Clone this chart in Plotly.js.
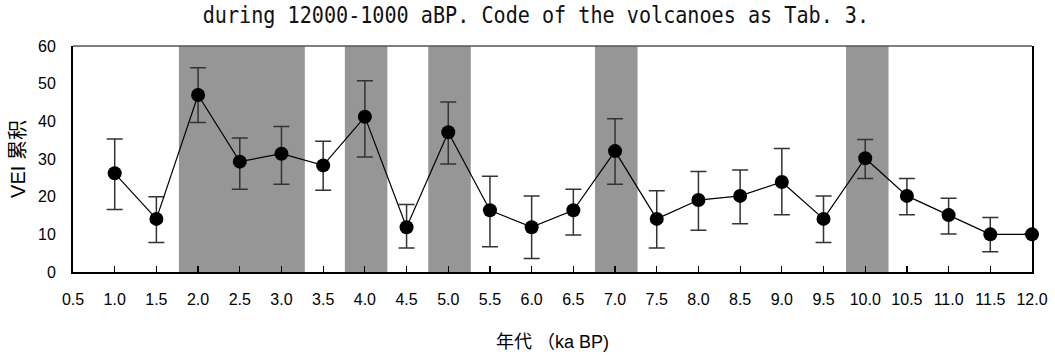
<!DOCTYPE html>
<html>
<head>
<meta charset="utf-8">
<script src="https://cdn.plot.ly/plotly-3.0.1.min.js"></script>
<style>html,body{margin:0;padding:0;background:#fff;}#chart{width:1055px;height:359px;}</style>
</head>
<body>
<div id="chart"></div>
<script>
// Age (ka BP)
const ages = [1.0, 1.5, 2.0, 2.5, 3.0, 3.5, 4.0, 4.5, 5.0, 5.5, 6.0, 6.5, 7.0, 7.5, 8.0, 8.5, 9.0, 9.5, 10.0, 10.5, 11.0, 11.5, 12.0];
// Cumulative VEI
const veiSum = [26.2, 14.1, 47.0, 29.3, 31.4, 28.3, 41.2, 11.9, 37.1, 16.4, 11.9, 16.4, 32.1, 14.1, 19.1, 20.2, 23.9, 14.1, 30.2, 20.2, 15.1, 10.0, 10.0];
// Error bar upper and lower ends
const veiUpper = [35.3, 20.0, 54.2, 35.6, 38.6, 34.7, 50.8, 17.9, 45.1, 25.4, 20.2, 22.0, 40.7, 21.6, 26.7, 27.1, 32.8, 20.2, 35.2, 24.8, 19.6, 14.5, 10.0];
const veiLower = [16.6, 7.8, 39.7, 22.0, 23.3, 21.7, 30.5, 6.4, 28.7, 6.7, 3.6, 9.8, 23.3, 6.4, 11.1, 12.8, 15.2, 7.8, 24.8, 15.2, 10.1, 5.4, 10.0];
// Shaded periods (ka BP)
const bandStart = [1.77, 3.76, 4.76, 6.76, 9.77];
const bandEnd   = [3.28, 4.27, 5.27, 7.27, 10.28];
// Tick labels
const xTickLabels = ['0.5','1.0','1.5','2.0','2.5','3.0','3.5','4.0','4.5','5.0','5.5','6.0','6.5','7.0','7.5','8.0','8.5','9.0','9.5','10.0','10.5','11.0','11.5','12.0'];
const yTickValues = [0, 10, 20, 30, 40, 50, 60];

const titleText = 'during 12000-1000 aBP. Code of the volcanoes as Tab. 3.';
const xTitleText = '年代 （ka BP)';
const yTitleText = 'VEI 累积';

const errPlus = veiUpper.map((u, i) => u - veiSum[i]);
const errMinus = veiLower.map((l, i) => veiSum[i] - l);

const FONT = 'Liberation Sans, Arial, Noto Sans CJK SC, sans-serif';

const shapes = bandStart.map((s, i) => ({
  type: 'rect', xref: 'x', yref: 'paper', x0: s, x1: bandEnd[i], y0: 0, y1: 1,
  fillcolor: '#969696', line: {width: 0}, layer: 'below'
}));
shapes.push({type: 'line', xref: 'paper', yref: 'paper', x0: 0, x1: 1, y0: 1, y1: 1,
  line: {color: '#555555', width: 1.5}, layer: 'above'});

const trace = {
  x: ages, y: veiSum, type: 'scatter', mode: 'lines+markers',
  line: {color: '#000', width: 1.2},
  marker: {color: '#000', size: 14},
  error_y: {type: 'data', symmetric: false, array: errPlus, arrayminus: errMinus,
    color: '#333', thickness: 1.5, width: 8},
  cliponaxis: false,
  hoverinfo: 'skip'
};

const layout = {
  width: 1055, height: 359,
  margin: {l: 73, r: 23, t: 46, b: 87, pad: 0},
  paper_bgcolor: '#fff', plot_bgcolor: '#fff',
  showlegend: false,
  title: {text: titleText, x: 0.508, xanchor: 'center', xref: 'container',
    y: 1 - 7/359, yanchor: 'top', yref: 'container',
    font: {family: 'DejaVu Sans Mono, monospace', size: 23, color: '#111'}},
  xaxis: {
    range: [0.5, 12], tickmode: 'array', tickvals: xTickLabels.map(Number), ticktext: xTickLabels,
    ticks: 'inside', ticklen: 6, tickwidth: 1.2, tickcolor: '#000',
    showline: true, linecolor: '#000', linewidth: 2, mirror: false,
    showgrid: false, zeroline: false,
    ticklabelstandoff: 12,
    tickfont: {family: FONT, size: 16, color: '#000'},
    title: {text: xTitleText, standoff: 28, font: {family: FONT, size: 18, color: '#000'}},
    automargin: false
  },
  yaxis: {
    range: [0, 60], tickmode: 'array', tickvals: yTickValues,
    ticks: '', showline: true, linecolor: '#000', linewidth: 2, mirror: true,
    showgrid: false, zeroline: false,
    ticklabelstandoff: 12,
    tickfont: {family: FONT, size: 16, color: '#000'},
    title: {text: yTitleText, standoff: 7, font: {family: FONT, size: 20, color: '#000'}},
    automargin: false
  },
  shapes: shapes
};

Plotly.newPlot('chart', [trace], layout, {displayModeBar: false, staticPlot: true}).then(gd => {
  // narrow the title glyphs horizontally (tall, condensed look of the original)
  const t = gd.querySelector('.gtitle');
  if (t) {
    const cx = parseFloat(t.getAttribute('x')) || 0;
    const prev = t.getAttribute('transform') || '';
    t.setAttribute('transform', prev + ' translate(' + cx + ',0) scale(0.875,1) translate(' + (-cx) + ',0)');
  }
});
</script>
</body>
</html>
